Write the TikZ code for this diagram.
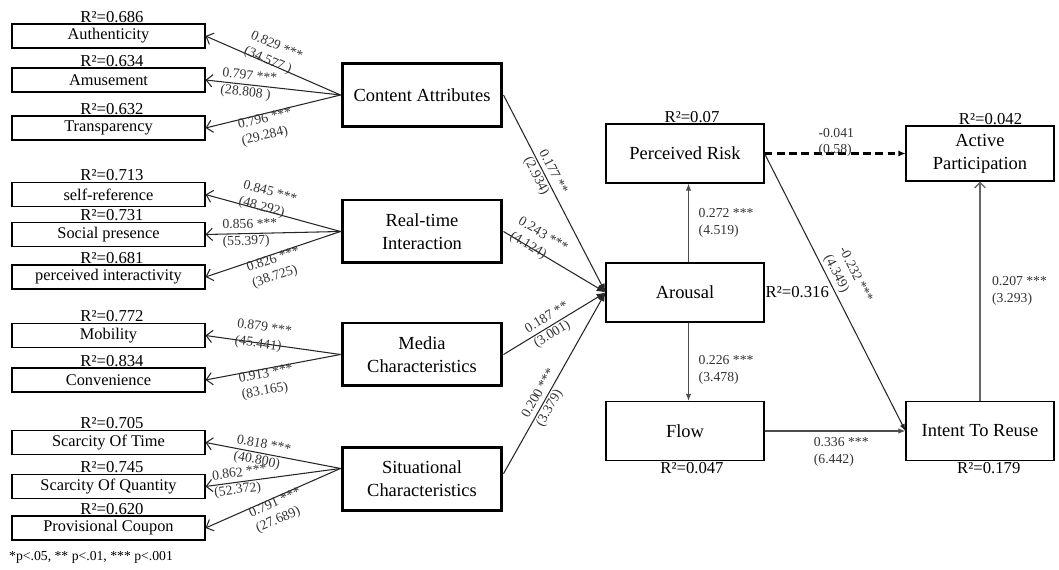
\documentclass[tikz,border=0pt]{standalone}
\usepackage{fontspec}
\setmainfont{Liberation Serif}
\usetikzlibrary{arrows.meta}
\tikzset{
    ind/.style={draw, line width=0.6pt, minimum width=3.86cm, minimum height=0.48cm, inner sep=0pt, font=\fontsize{9.3}{10}\selectfont},
    cons/.style={draw, line width=1.7pt, minimum width=3.2cm, minimum height=1.26cm, inner sep=0pt, align=center, font=\fontsize{10.5}{13}\selectfont},
    lat/.style={draw, line width=0.6pt, minimum width=3.16cm, minimum height=1.18cm, inner sep=0pt, align=center, font=\fontsize{10.5}{13}\selectfont},
    rsq/.style={inner sep=0.5pt, font=\fontsize{9.5}{10}\selectfont},
    coef/.style={inner sep=0.5pt, align=left, text=black!80, font=\fontsize{7.8}{9.5}\selectfont},
    load/.style={draw=black!85, line width=0.6pt, -{Straight Barb[length=3.5pt,width=7pt]}},
    struc/.style={draw=black!85, line width=0.6pt, -{Latex[length=5pt,width=4pt]}},
    pth/.style={draw=black!70, line width=0.6pt, -{Latex[length=4pt,width=3pt]}}
}

\begin{document}
\begin{tikzpicture}[x=0.02cm, y=-0.02cm]
    \useasboundingbox (0,0) rectangle (1059,570);

    % Indicators
    \node[ind] (auth) at (108.5,36) {Authenticity};
    \node[ind] (amus) at (108.5,80) {Amusement};
    \node[ind] (trans) at (108.5,128) {Transparency};
    \node[ind] (selfref) at (108.5,194.5) {self-reference};
    \node[ind] (socpres) at (108.5,234.5) {Social presence};
    \node[ind] (perint) at (108.5,277) {perceived interactivity};
    \node[ind] (mobil) at (108.5,335.5) {Mobility};
    \node[ind] (conv) at (108.5,380) {Convenience};
    \node[ind] (sctime) at (108.5,442.5) {Scarcity Of Time};
    \node[ind] (scquan) at (108.5,486.5) {Scarcity Of Quantity};
    \node[ind] (coupon) at (108.5,528) {Provisional Coupon};

    \node[rsq, above] (rauth) at ([xshift=2pt]auth.north) {R²=0.686};
    \node[rsq, above] (ramus) at ([xshift=2pt]amus.north) {R²=0.634};
    \node[rsq, above] (rtrans) at ([xshift=2pt]trans.north) {R²=0.632};
    \node[rsq, above] (rselfref) at ([xshift=2pt]selfref.north) {R²=0.713};
    \node[rsq, above] (rsocpres) at ([xshift=2pt]socpres.north) {R²=0.731};
    \node[rsq, above] (rperint) at ([xshift=2pt]perint.north) {R²=0.681};
    \node[rsq, above] (rmobil) at ([xshift=2pt]mobil.north) {R²=0.772};
    \node[rsq, above] (rconv) at ([xshift=2pt]conv.north) {R²=0.834};
    \node[rsq, above] (rsctime) at ([xshift=2pt]sctime.north) {R²=0.705};
    \node[rsq, above] (rscquan) at ([xshift=2pt]scquan.north) {R²=0.745};
    \node[rsq, above] (rcoupon) at ([xshift=2pt]coupon.north) {R²=0.620};

    % Constructs
    \node[cons] (ca) at (422,95) {Content Attributes};
    \node[cons] (rti) at (422,231.5) {Real-time\\Interaction};
    \node[cons] (mc) at (422,354.5) {Media\\Characteristics};
    \node[cons] (sc) at (422,479) {Situational\\Characteristics};

    % Loadings
    \draw[load] (ca.west) -- (auth.east) node[coef, sloped, pos=0.53, above=-3pt] {0.829 ***\\(34.577 )};
    \draw[load] (ca.west) -- (amus.east) node[coef, sloped, pos=0.68] {0.797 ***\\(28.808 )};
    \draw[load] (ca.west) -- (trans.east) node[coef, sloped, pos=0.57, below=-1pt] {0.796 ***\\(29.284)};

    \draw[load] (rti.west) -- (selfref.east) node[coef, sloped, pos=0.56, above=-3pt] {0.845 ***\\(48.292)};
    \draw[load] (rti.west) -- (socpres.east) node[coef, sloped, pos=0.67] {0.856 ***\\(55.397)};
    \draw[load] (rti.west) -- (perint.east) node[coef, sloped, pos=0.51, below=-1pt] {0.826 ***\\(38.725)};

    \draw[load] (mc.west) -- (mobil.east) node[coef, sloped, pos=0.58, above=-5pt] {0.879 ***\\(45.441)};
    \draw[load] (mc.west) -- (conv.east) node[coef, sloped, pos=0.56, below=-1pt] {0.913 ***\\(83.165)};

    \draw[load] ([yshift=6pt]sc.west) -- (sctime.east) node[coef, sloped, pos=0.58] {0.818 ***\\(40.800)};
    \draw[load] ([yshift=6pt]sc.west) -- (scquan.east) node[coef, sloped, pos=0.74] {0.862 ***\\(52.372)};
    \draw[load] ([yshift=6pt]sc.west) -- (coupon.east) node[coef, sloped, pos=0.5, below=-1pt] {0.791 ***\\(27.689)};

    % Structural model
    \node[lat] (pr) at (685,153.5) {Perceived Risk};
    \node[lat] (ar) at (685,292.5) {Arousal};
    \node[lat] (flow) at (685,431) {Flow};
    \node[lat, minimum width=2.96cm] (ir) at (980,431) {Intent To Reuse};
    \node[lat, minimum width=2.96cm, minimum height=1.1cm] (ap) at (980,153.5) {Active\\Participation};

    \node[rsq, above] (rpr) at ([xshift=4pt]pr.north) {R²=0.07};
    \node[rsq, right] (rar) at (ar.east) {R²=0.316};
    \node[rsq, below] (rflow) at ([xshift=4pt]flow.south) {R²=0.047};
    \node[rsq, below] (rir) at ([xshift=5pt]ir.south) {R²=0.179};
    \node[rsq, above] (rap) at ([xshift=6pt]ap.north) {R²=0.042};

    \draw[struc] (ca.east) -- (ar.west) node[coef, sloped, pos=0.41] {0.177 **\\(2.934)};
    \draw[struc] (rti.east) -- (ar.west) node[coef, sloped, pos=0.3, above=-4pt] {0.243 ***\\(4.124)};
    \draw[struc] (mc.east) -- (ar.west) node[coef, sloped, pos=0.47] {0.187 **\\(3.001)};
    \draw[struc] ([yshift=3pt]sc.east) -- (ar.west) node[coef, sloped, pos=0.42] {0.200 ***\\(3.379)};

    \draw[pth] ([xshift=2pt]ar.north) -- ([xshift=2pt]pr.south) node[coef, midway, right=5pt] {0.272 ***\\(4.519)};
    \draw[pth] ([xshift=2pt]ar.south) -- ([xshift=2pt]flow.north) node[coef, pos=0.6, right=5pt] {0.226 ***\\(3.478)};
    \draw[pth] (flow.east) -- (ir.west) node[coef, pos=0.34, anchor=north west, yshift=-3pt] {0.336 ***\\(6.442)};
    \draw[pth, draw=black!85] (pr.east) -- (ir.west) node[coef, sloped, pos=0.48, above=1pt] {-0.232 ***\\(4.349)};
    \draw[draw=black, line width=1.2pt, dash pattern=on 4.5pt off 2.5pt, -{Latex[length=4pt,width=3.5pt]}] (pr.east) -- (ap.west) node[coef, pos=0.37, anchor=south west, yshift=-3pt] {-0.041\\(0.58)};
    \draw[draw=black!60, line width=0.8pt, -{Straight Barb[length=3pt,width=6pt]}] (ir.north) -- (ap.south) node[coef, midway, right=6pt] {0.207 ***\\(3.293)};

    % Note
    \node[coef, anchor=west, text=black] (note) at (8,557) {*p<.05, ** p<.01, *** p<.001};
\end{tikzpicture}
\end{document}
